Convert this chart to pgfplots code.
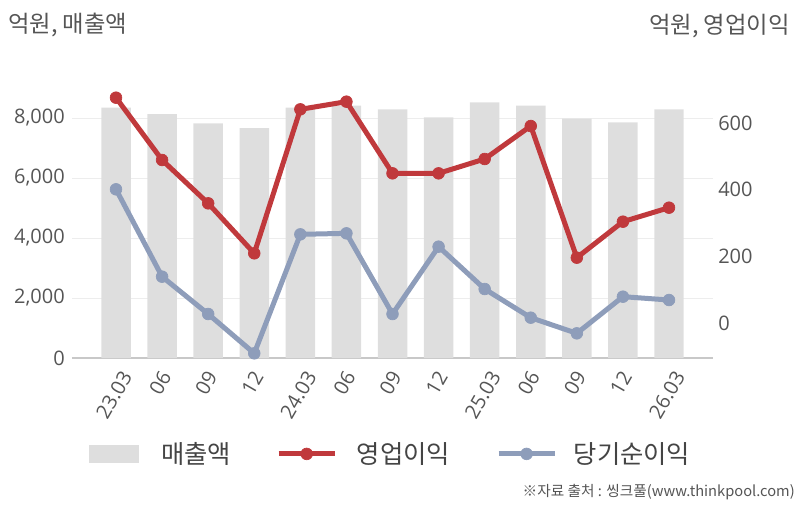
\documentclass[border=0pt]{standalone}
\usepackage{graphicx}
\usepackage{pgfplots}
\pgfplotsset{compat=1.18}
\usepackage{fontspec}
\setmainfont{Open Sans}
\newfontfamily\kr{Noto Sans CJK KR}
\definecolor{barcol}{HTML}{DEDEDE}
\definecolor{redcol}{HTML}{C0393C}
\definecolor{bluecol}{HTML}{8E9DBA}
\definecolor{textcol}{HTML}{555555}
\definecolor{legtext}{HTML}{444444}
\definecolor{gridcol}{HTML}{EDEDED}
\definecolor{axiscol}{HTML}{C8C8C8}
\newcommand\rl[1]{\rotatebox{60}{#1}}
\begin{document}
\begin{tikzpicture}
\path[use as bounding box] (0pt,0pt) rectangle (601.5pt,384pt);
\node[anchor=west, font=\kr\fontsize{17.5}{20}\selectfont, text=textcol, inner sep=0pt] at (6pt,365.25pt) {억원, 매출액};
\node[anchor=east, font=\kr\fontsize{17.5}{20}\selectfont, text=textcol, inner sep=0pt] at (592.5pt,364.5pt) {억원, 영업이익};
\node[anchor=east, font=\kr\fontsize{11}{13}\selectfont, text=textcol, inner sep=0pt] at (596.25pt,15pt) {※자료 출처 : 씽크풀(www.thinkpool.com)};
\begin{axis}[
  at={(54pt,115.5pt)}, anchor=south west,
  scale only axis, width=480.75pt, height=216pt,
  xmin=-0.955, xmax=12.955, ymin=0, ymax=9600,
  axis x line*=bottom, axis y line*=left,
  x axis line style={-, draw=axiscol, line width=1pt},
  y axis line style={draw=none},
  major tick length=0pt,
  xtick={0,...,12},
  xticklabels={\rl{23.03},\rl{06},\rl{09},\rl{12},\rl{24.03},\rl{06},\rl{09},\rl{12},\rl{25.03},\rl{06},\rl{09},\rl{12},\rl{26.03}},
  xticklabel style={anchor=north, inner sep=0pt, yshift=-8.25pt, xshift=-1.5pt},
  ytick={0,2000,4000,6000,8000},
  scaled y ticks=false,
  yticklabel style={anchor=east, inner sep=0pt, xshift=-5.25pt, /pgf/number format/1000 sep={,}},
  /pgf/number format/assume math mode=true,
  tick label style={font=\fontsize{15}{18}\selectfont, text=textcol},
  ymajorgrids, grid style={gridcol, line width=0.75pt},
]
\addplot[ybar, bar width=0.64, bar shift=0pt, fill=barcol, draw=none] coordinates {
(0,8343) (1,8133) (2,7822) (3,7667) (4,8343) (5,8411) (6,8289) (7,8022) (8,8522) (9,8411) (10,7978) (11,7855) (12,8289)};
\end{axis}
\begin{axis}[
  at={(54pt,115.5pt)}, anchor=south west,
  scale only axis, width=480.75pt, height=216pt,
  xmin=-0.955, xmax=12.955, ymin=-105, ymax=759,
  axis x line=none, axis y line*=right,
  y axis line style={draw=none},
  major tick length=0pt,
  ytick={0,200,400,600},
  yticklabel style={anchor=west, inner sep=0pt, xshift=3.75pt},
  /pgf/number format/assume math mode=true,
  tick label style={font=\fontsize{15}{18}\selectfont, text=textcol},
  legend image code/.code={\draw[mark repeat=2,mark phase=2,#1] plot coordinates {(0pt,0pt) (21pt,0pt) (42pt,0pt)};},
  legend style={at={(0.02,-0.333)}, anchor=west, draw=none, fill=none,
    font=\kr\fontsize{19}{22}\selectfont, text=legtext,
    nodes={inner sep=0pt},
    /tikz/column 1/.style={column sep=17pt},
    /tikz/column 2/.style={column sep=33.75pt},
    /tikz/column 3/.style={column sep=14.75pt},
    /tikz/column 4/.style={column sep=34.5pt},
    /tikz/column 5/.style={column sep=12.5pt}},
  legend columns=3,
]
\addlegendimage{barcol, legend image code/.code={\fill[barcol] (0pt,-6.375pt) rectangle (36.75pt,6.375pt);}}
\addlegendentry{매출액}
\addplot[redcol, line width=3.75pt, mark=*, mark size=4.4pt, mark options={solid, fill=redcol, draw=redcol, line width=0.5pt}]
coordinates {(0,676) (1,489) (2,359) (3,209) (4,641) (5,664) (6,449) (7,449) (8,492) (9,591) (10,196) (11,304) (12,346)};
\addlegendentry{영업이익}
\addplot[bluecol, line width=3.75pt, mark=*, mark size=4.4pt, mark options={solid, fill=bluecol, draw=bluecol, line width=0.5pt}]
coordinates {(0,401) (1,139) (2,27) (3,-91) (4,266) (5,269) (6,27) (7,229) (8,102) (9,16) (10,-31) (11,79) (12,69)};
\addlegendentry{당기순이익}
\end{axis}
\end{tikzpicture}
\end{document}
